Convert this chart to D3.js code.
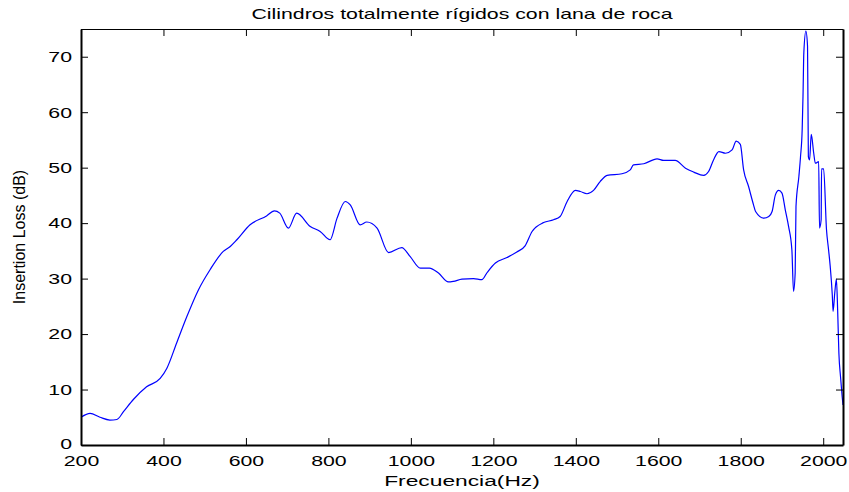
<!DOCTYPE html>
<html>
<head>
<meta charset="utf-8">
<script src="https://cdn.jsdelivr.net/npm/d3@7"></script>
<style>
  html, body { margin: 0; padding: 0; background: #fff; }
  svg { display: block; }
  text { font-family: "Liberation Sans", Arial, Helvetica, sans-serif; fill: #000; }
</style>
</head>
<body>
<script>
// Insertion loss of fully rigid cylinders with rock wool, versus frequency
const frequencyHz = [
  200, 222, 246, 270, 287, 303, 327, 359, 392, 408, 432, 457, 485, 513, 545, 562, 578,
  610, 650, 669, 682, 703, 723, 756, 780, 804, 821, 841, 853, 877, 893, 918, 946, 978,
  998, 1023, 1045, 1067, 1091, 1103, 1124, 1152, 1172, 1185, 1205, 1233, 1257, 1277,
  1294, 1322, 1346, 1362, 1379, 1399, 1411, 1427, 1443, 1459, 1476, 1512, 1532, 1540,
  1565, 1597, 1613, 1641, 1666, 1686, 1710, 1722, 1734, 1747, 1763, 1779, 1789, 1799,
  1807, 1819, 1831, 1836, 1856, 1868, 1876, 1884, 1892, 1900, 1908, 1916, 1924, 1928,
  1932, 1934, 1941, 1945, 1949, 1951, 1953, 1958, 1962, 1964, 1967, 1971, 1977, 1981,
  1989, 1991, 1995, 1996, 2001, 2008, 2013, 2017, 2022, 2024, 2028, 2032, 2035, 2038,
  2042, 2046, 2048
];
const insertionLossDb = [
  5.0, 5.7, 5.0, 4.5, 4.6, 6.0, 8.2, 10.5, 12.0, 13.8, 18.4, 23.2, 28.0, 31.6, 34.9, 35.8, 37.0,
  39.7, 41.3, 42.2, 41.8, 39.1, 41.8, 39.4, 38.5, 37.0, 40.9, 43.9, 43.3, 39.7, 40.2, 39.1, 34.7, 35.6,
  34.0, 31.9, 31.9, 31.0, 29.4, 29.5, 29.9, 30.0, 29.8, 31.1, 32.8, 33.8, 34.8, 35.9,
  38.5, 40.1, 40.6, 41.2, 43.9, 45.9, 45.7, 45.3, 45.9, 47.5, 48.6, 48.9, 49.6, 50.5,
  50.7, 51.6, 51.3, 51.3, 49.9, 49.2, 48.6, 49.3, 51.4, 52.9, 52.6, 53.2, 54.8, 54.2,
  49.6, 46.6, 43.3, 42.1, 40.9, 41.2, 42.1, 45.1, 45.9, 45.4, 42.4, 39.4, 35.2, 27.7,
  31.0, 43.0, 48.4, 52.0, 56.9, 62.9, 70.7, 74.6, 71.9, 52.0, 51.4, 56.0, 52.6, 50.8,
  51.1, 39.1, 40.6, 49.8, 49.8, 38.8, 35.2, 32.2, 27.1, 24.1, 27.4, 29.9, 24.4, 16.6,
  12.3, 8.7, 7.2
];
const xTickValues = [200, 400, 600, 800, 1000, 1200, 1400, 1600, 1800, 2000];
const yTickValues = [0, 10, 20, 30, 40, 50, 60, 70];
const chartTitle = "Cilindros totalmente rígidos con lana de roca";
const xLabel = "Frecuencia(Hz)";
const yLabel = "Insertion Loss (dB)";

const W = 849, H = 492;
const margin = { top: 29, right: 6, bottom: 47, left: 81 };
const iw = W - margin.left - margin.right;
const ih = H - margin.top - margin.bottom;
const stretch = 1.42;   // horizontal text widening
const tickLen = 7;

const svg = d3.select("body").append("svg").attr("width", W).attr("height", H);
const g = svg.append("g").attr("transform", `translate(${margin.left},${margin.top})`);

const x = d3.scaleLinear().domain([200, 2048]).range([0, iw]);
const y = d3.scaleLinear().domain([0, 75]).range([ih, 0]);

const points = frequencyHz.map((f, i) => [f, insertionLossDb[i]]);

g.append("clipPath").attr("id", "plotClip")
  .append("rect").attr("width", iw).attr("height", ih);

g.append("path")
  .datum(points)
  .attr("clip-path", "url(#plotClip)")
  .attr("fill", "none")
  .attr("stroke", "#0000ff")
  .attr("stroke-width", 1.2)
  .attr("stroke-linejoin", "round")
  .attr("d", d3.line().x(d => x(d[0])).y(d => y(d[1])).curve(d3.curveMonotoneX));

function styleAxis(sel, domainWidth) {
  sel.select(".domain").attr("stroke", "#000").attr("stroke-width", domainWidth);
  sel.selectAll(".tick line").attr("stroke", "#000").attr("stroke-width", 1);
  sel.selectAll(".tick text").attr("font-size", 15).attr("fill", "#000")
    .attr("font-family", "'Liberation Sans', Arial, sans-serif");
}

// bottom axis with labels, ticks pointing inward
const xAxisB = g.append("g").attr("transform", `translate(0,${ih})`)
  .call(d3.axisBottom(x).tickValues(xTickValues).tickFormat(d3.format("d"))
    .tickSizeInner(-tickLen).tickSizeOuter(0).tickPadding(10));
styleAxis(xAxisB, 2);
xAxisB.selectAll(".tick text").attr("transform", `scale(${stretch},1)`);

// top axis, ticks only
const xAxisT = g.append("g")
  .call(d3.axisTop(x).tickValues(xTickValues).tickFormat("")
    .tickSizeInner(-tickLen).tickSizeOuter(0));
styleAxis(xAxisT, 1.2);

// left axis with labels
const yAxisL = g.append("g")
  .call(d3.axisLeft(y).tickValues(yTickValues).tickFormat(d3.format("d"))
    .tickSizeInner(-tickLen).tickSizeOuter(0).tickPadding(9));
styleAxis(yAxisL, 2);
yAxisL.selectAll(".tick text")
  .attr("x", -9 / stretch)
  .attr("transform", `scale(${stretch},1)`);
// lift the zero label slightly so it clears the frequency labels
yAxisL.selectAll(".tick").filter(d => d === 0).select("text").attr("dy", "0.2em");

// right axis, ticks only
const yAxisR = g.append("g").attr("transform", `translate(${iw},0)`)
  .call(d3.axisRight(y).tickValues(yTickValues).tickFormat("")
    .tickSizeInner(-tickLen).tickSizeOuter(0));
styleAxis(yAxisR, 2);

// title
svg.append("text")
  .attr("transform", `translate(${margin.left + iw / 2},19) scale(${stretch},1)`)
  .attr("text-anchor", "middle").attr("font-size", 15)
  .text(chartTitle);

// x label
svg.append("text")
  .attr("transform", `translate(${margin.left + iw / 2},486) scale(${stretch + 0.05},1)`)
  .attr("text-anchor", "middle").attr("font-size", 15.5)
  .text(xLabel);

// y label
svg.append("text")
  .attr("transform", `translate(25,${margin.top + ih / 2}) rotate(-90)`)
  .attr("text-anchor", "middle").attr("font-size", 16)
  .text(yLabel);
</script>
</body>
</html>
